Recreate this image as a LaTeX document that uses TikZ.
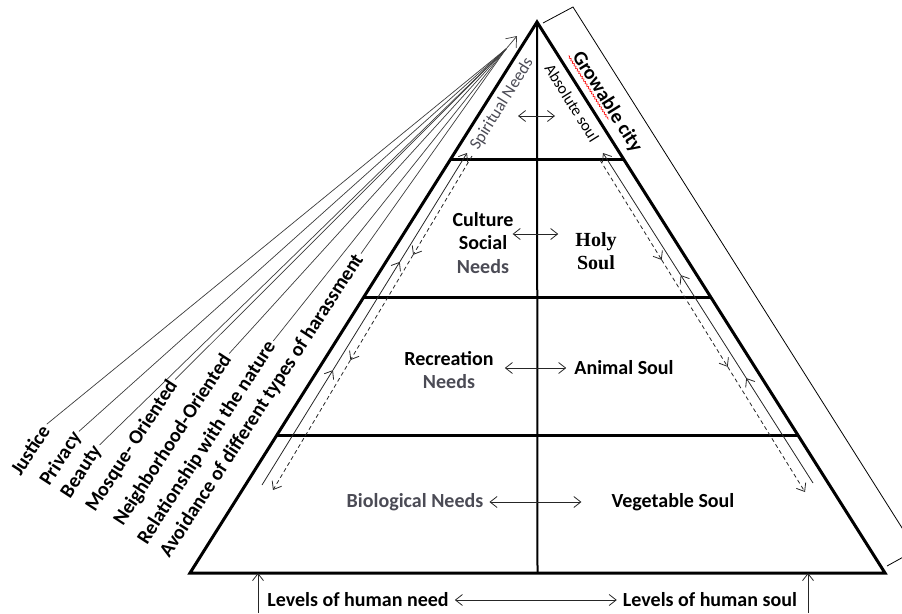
\documentclass[tikz,border=0pt]{standalone}
\usepackage{fontspec}
\setmainfont{Carlito}
\newfontfamily\holyfont{Liberation Serif}
\usetikzlibrary{arrows.meta, calc, decorations.pathmorphing}
\definecolor{needgray}{RGB}{75,75,85}
\definecolor{raygray}{RGB}{60,60,60}

\begin{document}
\begin{tikzpicture}[
    x=1pt, y=-1pt,
    font=\bfseries\fontsize{20}{23.5}\selectfont,
    >= {Straight Barb[length=7pt, width=11pt]},
    pyr/.style={line width=3pt, line join=miter},
    flow/.style={line width=0.8pt, draw=black!85},
    flowdash/.style={flow, dash pattern=on 4pt off 3pt},
    rays/.style={line width=0.7pt, draw=raygray},
    lbl/.style={inner sep=3pt, rotate=57},
    txt/.style={align=center, inner sep=1pt},
    ]

    \clip (0,0) rectangle (902,613);

    % Pyramid outline and its levels
    \coordinate (apex) at (537,22);
    \coordinate (bl) at (190,573);
    \coordinate (br) at (885,573);
    \draw[pyr] (apex) -- (bl) -- (br) -- cycle;
    \foreach \f in {0.25,0.5,0.75}
        \draw[pyr] ($(apex)!\f!(bl)$) -- ($(apex)!\f!(br)$);
    \draw[line width=2pt] (apex) -- ($(bl)!0.5!(br)$);

    % Bracket of the growable city
    \draw[line width=0.8pt] (543,23) -- (573,7) -- (916,550) -- (887,566);
    \node[inner sep=2pt, rotate=-58] (city) at (607,102) {Growable city};
    \coordinate (sq-a) at ($(city.base west)!0.5!(city.south west)$);
    \coordinate (sq-b) at ($(city.base east)!0.5!(city.south east)$);
    \draw[red, line width=0.6pt, decorate, decoration={snake, amplitude=0.8pt, segment length=3pt}]
        (sq-a) -- ($(sq-a)!0.63!(sq-b)$);

    % Top level
    \node[inner sep=1pt, rotate=58, text=needgray, font=\fontsize{17}{20}\selectfont] (spirit) at (502,104) {Spiritual Needs};
    \node[inner sep=1pt, rotate=-58, font=\fontsize{16}{19}\selectfont] (absolute) at (572,103) {Absolute soul};
    \coordinate (spiritmid) at (537,116);
    \draw[flow, <->] ([xshift=-19pt]spiritmid) -- ([xshift=18pt]spiritmid);

    % Needs and souls
    \node[txt] (culture) at (483,243) {Culture\\Social\\{\color{needgray}Needs}};
    \node[txt, font=\holyfont\bfseries\fontsize{20}{23.5}\selectfont] (holy) at (596,251) {Holy\\Soul};
    \node[txt] (recre) at (449,370) {Recreation\\{\color{needgray}Needs}};
    \node[txt] (animal) at (624,368) {Animal Soul};
    \node[txt, text=needgray] (bio) at (415,502) {Biological Needs};
    \node[txt] (veg) at (673,502) {Vegetable Soul};

    \draw[flow, <->, shorten <=-2pt, shorten >=16pt] ([yshift=9pt]culture.east) -- ([yshift=9pt]culture.east -| holy.west);
    \draw[flow, <->, shorten <=10pt, shorten >=7pt] (recre.east |- animal.west) -- (animal.west);
    \draw[flow, <->, shorten <=5pt, shorten >=29pt] (bio.east) -- (veg.west);

    % Flows along the left side
    \coordinate (ls-a) at (262,485);
    \coordinate (ls-b) at (467,153);
    \foreach \s/\e in {0/0.346, 0.346/0.672, 0.672/1}
        \draw[flow, ->] ($(ls-a)!\s!(ls-b)$) -- ($(ls-a)!\e!(ls-b)$);
    \coordinate (ld-a) at (472,156);
    \coordinate (ld-b) at (273,490);
    \foreach \s/\e in {0/0.296, 0.296/0.611, 0.611/1}
        \draw[flowdash, ->] ($(ld-a)!\s!(ld-b)$) -- ($(ld-a)!\e!(ld-b)$);

    % Flows along the right side
    \coordinate (rs-a) at (813,483);
    \coordinate (rs-b) at (603,153);
    \foreach \s/\e in {0/0.318, 0.318/0.63, 0.63/1}
        \draw[flow, ->] ($(rs-a)!\s!(rs-b)$) -- ($(rs-a)!\e!(rs-b)$);
    \coordinate (rd-a) at (600,160);
    \coordinate (rd-b) at (805,492);
    \foreach \s/\e in {0/0.301, 0.301/0.623, 0.623/1}
        \draw[flowdash, ->] ($(rd-a)!\s!(rd-b)$) -- ($(rd-a)!\e!(rd-b)$);

    % Principles converging to the top
    \coordinate (conv) at (506,49);
    \coordinate (raytip) at (517,36);
    \foreach \name/\cx/\cy/\txt in {
        justice/30/450/Justice,
        privacy/61/459/Privacy,
        beauty/82/472/Beauty,
        mosque/132/446/Mosque- Oriented,
        neighbor/173/440/Neighborhood-Oriented,
        nature/207/443/Relationship with the nature,
        harass/262/406/Avoidance of different types of harassment}
    {
        \node[lbl] (lbl-\name) at (\cx,\cy) {\txt};
        \draw[rays] (lbl-\name.east) -- (conv);
    }
    \draw[rays, -{Straight Barb[length=9pt, width=14pt]}] (conv) -- (raytip);

    % Levels at the bottom
    \node[txt] (needlvl) at (358,600) {Levels of human need};
    \node[txt] (soullvl) at (710,600) {Levels of human soul};
    \draw[flow, <->, shorten <=5pt, shorten >=5pt] (needlvl.east) -- (soullvl.west);
    \coordinate (needfoot) at (258,613);
    \coordinate (soulfoot) at (808,613);
    \draw[flow, ->] (needfoot) -- (needfoot |- bl);
    \draw[flow, ->] (soulfoot) -- (soulfoot |- br);

\end{tikzpicture}
\end{document}
